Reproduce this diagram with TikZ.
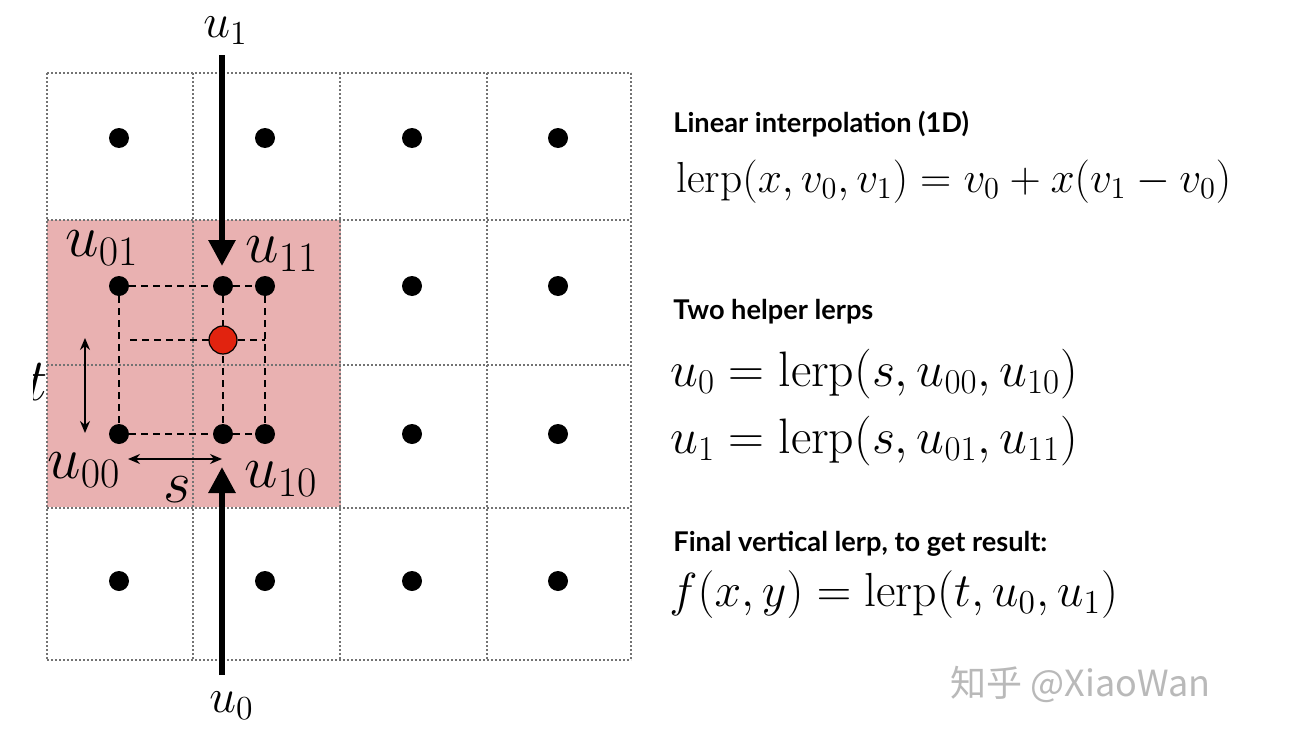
\RequirePackage{fix-cm}
\documentclass[tikz,border=0pt]{standalone}
\usepackage{fontspec}
\newfontfamily\headfont{Lato}
\newfontfamily\cjkfont{Noto Sans CJK SC}
\usetikzlibrary{arrows.meta}
\definecolor{cellpink}{RGB}{233,177,177}
\definecolor{gridgray}{RGB}{115,115,115}
\definecolor{dotred}{RGB}{225,35,15}
\definecolor{wmgray}{RGB}{185,185,185}
\begin{document}
\begin{tikzpicture}[x=0.5pt,y=-0.5pt,
  gridline/.style={draw=gridgray, line width=1.1pt, dash pattern=on 1.1pt off 0.9pt},
  griddot/.style={circle, fill=black, inner sep=0pt, minimum size=10pt},
  reddot/.style={circle, fill=dotred, draw=black, line width=0.6pt, inner sep=0pt, minimum size=14pt},
  helper/.style={draw=black, dash pattern=on 3.5pt off 2.5pt, line width=1.3pt},
  bigarrow/.style={line width=3pt, -{Triangle[width=13pt,length=13pt]}},
  dimarrow/.style={line width=0.9pt, {Stealth[length=6pt,width=5pt]}-{Stealth[length=6pt,width=5pt]}},
  lbl/.style={anchor=base west, inner sep=0pt, font=\fontsize{30}{34}\selectfont},
  endlbl/.style={anchor=base west, inner sep=0pt, font=\fontsize{24}{28}\selectfont},
  head/.style={anchor=base west, inner sep=0pt, font=\headfont\bfseries\fontsize{13.6}{16}\selectfont},
  eqa/.style={anchor=base west, inner sep=0pt, font=\fontsize{21.7}{26}\selectfont},
  eqb/.style={anchor=base west, inner sep=0pt, font=\fontsize{24.9}{28}\selectfont},
  eqc/.style={anchor=base west, inner sep=0pt, font=\fontsize{23.9}{28}\selectfont}
]
\useasboundingbox (0,0) rectangle (1302,744);
\fill[white] (0,0) rectangle (1302,744);

% pink cells
\fill[cellpink] (47,220) rectangle (341,507);

% grid
\foreach \gx in {47,193,340,487,631} \draw[gridline] (\gx,73) -- (\gx,660);
\foreach \gy in {73,220,365,508,660} \draw[gridline] (47,\gy) -- (631,\gy);

% grid dots
\foreach \gx/\cx in {0/119,1/265,2/412,3/558}
  \foreach \gy/\cy in {0/138,1/286,2/434,3/581}
    \node[griddot] (g\gx\gy) at (\cx,\cy) {};

% interpolated points
\node[griddot] (p1) at (223,286) {};
\node[griddot] (p0) at (223,434) {};
\coordinate (hl) at (130,340);

% dashed helper lines
\draw[helper] (g01) -- (p1) -- (g11);
\draw[helper] (g02) -- (p0) -- (g12);
\draw[helper] (g01) -- (g02);
\draw[helper] (p1) -- (p0);
\draw[helper] (g11) -- (g12);
\draw[helper] (hl) -- (265,340);

\node[reddot] (res) at (223,340) {};

% labels
\node[lbl] (l01) at (65,256) {$u_{01}$};
\node[lbl] (l11) at (245,262) {$u_{11}$};
\node[lbl] (l00) at (47,478) {$u_{00}$};
\node[lbl] (l10) at (244,487) {$u_{10}$};
\node[lbl] (ls) at (163,502) {$s$};
\begin{scope}
  \clip (33,300) rectangle (200,450);
  \node[lbl] (lt) at (26,400) {$t$};
\end{scope}

% dimension arrows
\coordinate (ta) at (85,338);
\coordinate (tb) at (85,433);
\draw[dimarrow] (ta) -- (tb);
\coordinate (sa) at (128,459);
\coordinate (sb) at (222,459);
\draw[dimarrow] (sa) -- (sb);

% big arrows
\node[endlbl] (u1) at (203,37) {$u_1$};
\node[endlbl] (u0) at (209,712) {$u_0$};
\coordinate (a1s) at (222,55);
\coordinate (a1e) at (222,266);
\draw[bigarrow] (a1s) -- (a1e);
\coordinate (a0s) at (222,675);
\coordinate (a0e) at (222,467);
\draw[bigarrow] (a0s) -- (a0e);

% right side text
\node[head] (h1) at (673,132) {Linear interpolation (1D)};
\node[eqa] (e1) at (676,192) {$\mathrm{lerp}(x,v_0,v_1)=v_0+x(v_1-v_0)$};
\node[head] (h2) at (673,319) {Two helper lerps};
\node[eqb] (e2) at (670,386) {$u_0=\mathrm{lerp}(s,u_{00},u_{10})$};
\node[eqb] (e3) at (670,453) {$u_1=\mathrm{lerp}(s,u_{01},u_{11})$};
\node[head] (h3) at (673,551) {Final vertical lerp, to get result:};
\node[eqc] (e4) at (669,606) {$f(x,y)=\mathrm{lerp}(t,u_0,u_1)$};

% watermark
\node[anchor=base west, inner sep=0pt, text=wmgray, font=\cjkfont\fontsize{18}{21}\selectfont] (wm) at (950,696) {知乎 @XiaoWan};
\end{tikzpicture}
\end{document}
